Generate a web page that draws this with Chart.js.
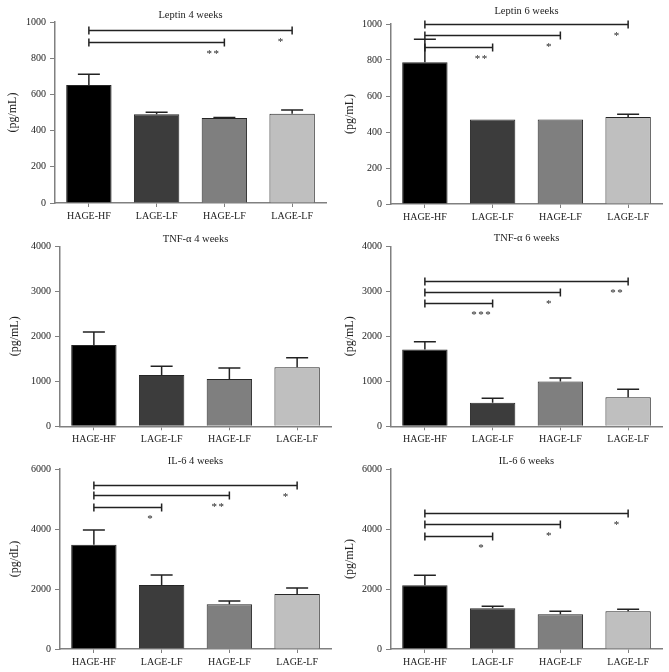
<!DOCTYPE html>
<html>
<head>
<meta charset="utf-8">
<title>Leptin, TNF-α and IL-6</title>
<script src="https://cdn.jsdelivr.net/npm/chart.js@4.4.0/dist/chart.umd.min.js"></script>
<style>
  html, body { margin: 0; padding: 0; background: #fff; }
  #page { position: relative; width: 669px; height: 672px; }
  #page canvas { position: absolute; }
</style>
</head>
<body>
<div id="page">
  <canvas id="leptin4" width="335" height="224" style="left:0;top:0"></canvas>
  <canvas id="leptin6" width="334" height="224" style="left:335px;top:0"></canvas>
  <canvas id="tnf4" width="335" height="224" style="left:0;top:224px"></canvas>
  <canvas id="tnf6" width="334" height="224" style="left:335px;top:224px"></canvas>
  <canvas id="il4" width="335" height="224" style="left:0;top:448px"></canvas>
  <canvas id="il6" width="334" height="224" style="left:335px;top:448px"></canvas>
</div>
<script>
// groups on the x axis
const groups = ['HAGE-HF', 'LAGE-LF', 'HAGE-LF', 'LAGE-LF'];
const barColors = ['#000000', '#3c3c3c', '#7f7f7f', '#bfbfbf'];

// means and SEM (upper error bar)
const leptin4Means = [652, 490, 470, 494];
const leptin4Sem = [60, 11, 2, 20];
const leptin6Means = [787, 469, 469, 483];
const leptin6Sem = [128, 0, 0, 15];
const tnf4Means = [1807, 1141, 1052, 1311];
const tnf4Sem = [289, 192, 244, 215];
const tnf6Means = [1704, 526, 993, 644];
const tnf6Sem = [177, 96, 81, 178];
const il4Means = [3478, 2133, 1489, 1833];
const il4Sem = [489, 334, 111, 200];
const il6Means = [2122, 1356, 1156, 1256];
const il6Sem = [334, 66, 100, 66];

// significance brackets from HAGE-HF: [target group index, bracket level, stars]
const leptin4Sig = [[2, 889, '**'], [3, 954, '*']];
const leptin6Sig = [[1, 872, '**'], [2, 941, '*'], [3, 1000, '*']];
const tnf4Sig = [];
const tnf6Sig = [[1, 2733, '***'], [2, 2985, '*'], [3, 3222, '**']];
const il4Sig = [[1, 4722, '*'], [2, 5122, '**'], [3, 5478, '*']];
const il6Sig = [[1, 3778, '*'], [2, 4167, '*'], [3, 4522, '*']];

const serif = '"Liberation Serif", "DejaVu Serif", serif';
const ink = '#222';
const axisGrey = '#808080';

// error bars (upper half only) and significance brackets
const extras = {
  id: 'extras',
  afterDatasetsDraw(chart, args, opts) {
    const ctx = chart.ctx;
    const meta = chart.getDatasetMeta(0);
    const y = chart.scales.y;
    ctx.save();
    ctx.strokeStyle = ink;
    ctx.lineWidth = 1.5;
    opts.sem.forEach((e, i) => {
      if (!e) return;
      const bar = meta.data[i];
      const top = y.getPixelForValue(opts.means[i] + e);
      ctx.beginPath();
      ctx.moveTo(bar.x, bar.y);
      ctx.lineTo(bar.x, top);
      ctx.moveTo(bar.x - 11, top);
      ctx.lineTo(bar.x + 11, top);
      ctx.stroke();
    });
    ctx.fillStyle = ink;
    ctx.font = '11px ' + serif;
    ctx.letterSpacing = '1.5px';
    ctx.textAlign = 'center';
    ctx.textBaseline = 'top';
    opts.sig.forEach(([to, level, stars]) => {
      const x0 = meta.data[0].x;
      const x1 = meta.data[to].x;
      const py = Math.round(y.getPixelForValue(level)) + 0.5;
      ctx.beginPath();
      ctx.moveTo(x0, py);
      ctx.lineTo(x1, py);
      ctx.moveTo(x0, py - 4);
      ctx.lineTo(x0, py + 4);
      ctx.moveTo(x1, py - 4);
      ctx.lineTo(x1, py + 4);
      ctx.stroke();
      ctx.fillText(stars, x1 - 11, py + 6);
    });
    ctx.restore();
  }
};

function makePanel(id, title, yTitle, means, sem, sig, yMax, yStep, box) {
  new Chart(document.getElementById(id), {
    type: 'bar',
    data: {
      labels: groups,
      datasets: [{
        data: means,
        backgroundColor: barColors,
        borderColor: '#262626',
        borderWidth: 1,
        categoryPercentage: 1,
        barPercentage: 0.67
      }]
    },
    options: {
      responsive: false,
      animation: false,
      layout: { padding: { left: 0, right: box.right, top: 0, bottom: 0 } },
      plugins: {
        legend: { display: false },
        tooltip: { enabled: false },
        title: {
          display: true,
          text: title,
          fullSize: false,
          color: ink,
          font: { family: serif, size: 10.5, weight: 'normal' },
          padding: { top: box.titleTop, bottom: box.titleBottom }
        },
        extras: { means: means, sem: sem, sig: sig }
      },
      scales: {
        x: {
          grid: { display: true, drawOnChartArea: false, offset: false, tickLength: 4, color: axisGrey },
          border: { color: axisGrey, width: 1.5 },
          ticks: { color: ink, font: { family: serif, size: 10 }, padding: 3 },
          afterFit: s => { s.height = box.bottom; }
        },
        y: {
          min: 0,
          max: yMax,
          ticks: {
            stepSize: yStep,
            color: ink,
            font: { family: serif, size: 10 },
            padding: 4,
            callback: v => String(v)
          },
          grid: { drawOnChartArea: false, tickLength: 5, color: axisGrey },
          border: { color: axisGrey, width: 1.5 },
          title: {
            display: true,
            text: yTitle,
            color: ink,
            font: { family: serif, size: 12 },
            padding: { top: box.yTitle }
          },
          afterFit: s => { s.width = box.left; }
        }
      }
    },
    plugins: [extras]
  });
}

makePanel('leptin4', 'Leptin 4 weeks', '(pg/mL)', leptin4Means, leptin4Sem, leptin4Sig, 1000, 200,
  { left: 55, right: 9, titleTop: 8.5, titleBottom: 1, bottom: 21, yTitle: 6 });
makePanel('leptin6', 'Leptin 6 weeks', '(pg/mL)', leptin6Means, leptin6Sem, leptin6Sig, 1000, 200,
  { left: 56, right: 7, titleTop: 5.4, titleBottom: 6, bottom: 20, yTitle: 8 });
makePanel('tnf4', 'TNF-α 4 weeks', '(pg/mL)', tnf4Means, tnf4Sem, tnf4Sig, 4000, 1000,
  { left: 60, right: 4, titleTop: 8.7, titleBottom: 1, bottom: 21.7, yTitle: 8 });
makePanel('tnf6', 'TNF-α 6 weeks', '(pg/mL)', tnf6Means, tnf6Sem, tnf6Sig, 4000, 1000,
  { left: 56, right: 7, titleTop: 7.7, titleBottom: 2, bottom: 21.7, yTitle: 8 });
makePanel('il4', 'IL-6 4 weeks', '(pg/dL)', il4Means, il4Sem, il4Sig, 6000, 2000,
  { left: 60, right: 4, titleTop: 7, titleBottom: 1.4, bottom: 23, yTitle: 8 });
makePanel('il6', 'IL-6 6 weeks', '(pg/mL)', il6Means, il6Sem, il6Sig, 6000, 2000,
  { left: 56, right: 7, titleTop: 7, titleBottom: 1.4, bottom: 23, yTitle: 8 });
</script>
</body>
</html>
